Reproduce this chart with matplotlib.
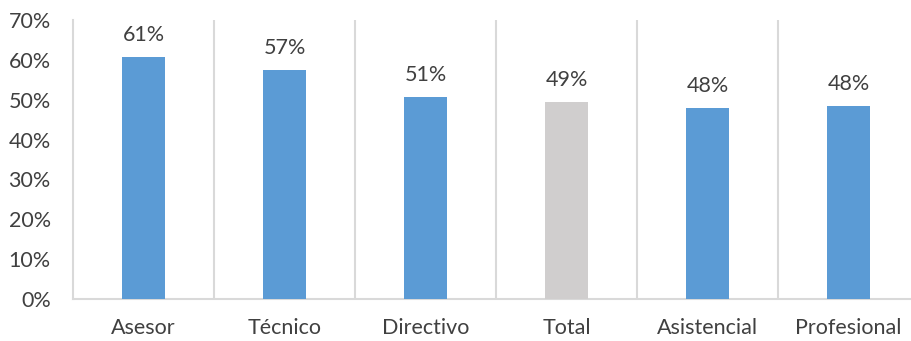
import matplotlib.pyplot as plt
from matplotlib.ticker import FuncFormatter, MultipleLocator

# Share by job level (percent)
categories = ["Asesor", "Técnico", "Directivo", "Total", "Asistencial", "Profesional"]
values = [60.6, 57.4, 50.6, 49.4, 47.8, 48.3]
colors = ["#5B9BD5", "#5B9BD5", "#5B9BD5", "#D0CECE", "#5B9BD5", "#5B9BD5"]

plt.rcParams["font.family"] = ["Lato", "DejaVu Sans"]
text_color = "#404040"
grid_color = "#D9D9D9"

fig = plt.figure(figsize=(9.12, 3.41), dpi=100)
ax = fig.add_axes([73 / 912, 42 / 341, (912 - 73) / 912, 279 / 341])

x = list(range(len(categories)))
bars = ax.bar(x, values, width=0.31, color=colors, zorder=3)

for b, v in zip(bars, values):
    ax.annotate(f"{v:.0f}%", (b.get_x() + b.get_width() / 2, v),
                xytext=(0, 9), textcoords="offset points",
                ha="center", va="bottom", fontsize=15.5, color=text_color)

ax.set_ylim(0, 70)
ax.set_xlim(-0.5, -0.5 + (912 - 73) / 141)
ax.yaxis.set_major_locator(MultipleLocator(10))
ax.yaxis.set_major_formatter(FuncFormatter(lambda v, _: f"{v:.0f}%"))

ax.set_xticks(x)
ax.set_xticklabels(categories)

# separators between categories
for sep in [i + 0.5 for i in range(len(categories) - 1)]:
    ax.axvline(sep, color=grid_color, lw=1.5, zorder=1)

for side in ["top", "right"]:
    ax.spines[side].set_visible(False)
ax.spines["left"].set_color(grid_color)
ax.spines["left"].set_linewidth(1.5)
ax.spines["bottom"].set_color(grid_color)
ax.spines["bottom"].set_linewidth(1.5)

ax.tick_params(axis="both", length=0, labelsize=15.5, labelcolor=text_color)
ax.tick_params(axis="y", pad=16)
ax.tick_params(axis="x", pad=14)

fig.savefig("out.png", dpi=100)
